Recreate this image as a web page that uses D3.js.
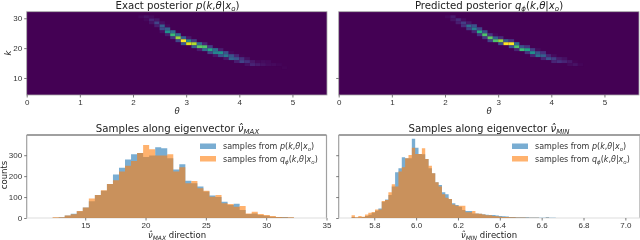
<!DOCTYPE html>
<html>
<head>
<meta charset="utf-8">
<script src="https://cdn.jsdelivr.net/npm/d3@7"></script>
<style>
html, body { margin: 0; padding: 0; background: #fff; }
svg { display: block; filter: blur(0.35px); font-family: "DejaVu Sans", sans-serif; }
.tick text { font-size: 8px; fill: #333; }
.title { font-size: 10.2px; fill: #222; text-anchor: middle; }
.axis-label { font-size: 8.5px; fill: #222; text-anchor: middle; }
.legend-text { font-size: 8px; fill: #333; }
.cells { filter: blur(0.5px); }
</style>
</head>
<body>
<div id="chart"></div>
<script>
// heatmap columns: theta left edge, lowest k row, cell values going up in k
var exactTheta = [2.1, 2.2, 2.3, 2.4, 2.5, 2.6, 2.7, 2.8, 2.9, 3.0, 3.1, 3.2, 3.3, 3.4, 3.5, 3.6, 3.7, 3.8, 3.9, 4.0, 4.1, 4.2, 4.3, 4.4, 4.5, 4.6, 4.7, 4.8];
var exactRow = [30, 29, 28, 27, 25, 24, 23, 22, 21, 21, 20, 19, 19, 18, 17, 17, 16, 16, 15, 15, 14, 14, 14, 14, 14, 14, 14, 13];
var exactVals = [
    [.02], [.02, .05], [.05, .1, .03], [.08, .2, .06], [.04, .22, .3, .04],
    [.08, .5, .3, .02], [.15, .68, .35], [.22, .85, .35], [.28, 1, .3], [.95, .45, .06],
    [.3, .88, .18], [.08, .75, .35], [.35, .72, .1], [.2, .6, .18], [.06, .45, .35],
    [.25, .5, .08], [.06, .4, .25], [.32, .25, .02], [.08, .26, .1], [.2, .14, .01],
    [.04, .14, .04], [.1, .06], [.07, .02], [.05, .03], [.03, .02], [.025], [.015], [.01]
];

var predTheta = [2.0, 2.1, 2.2, 2.3, 2.4, 2.5, 2.6, 2.7, 2.8, 2.9, 3.0, 3.1, 3.2, 3.3, 3.4, 3.5, 3.6, 3.7, 3.8, 3.9, 4.0, 4.1, 4.2, 4.3, 4.4, 4.5];
var predRow = [30, 29, 28, 27, 26, 25, 24, 23, 22, 22, 21, 21, 20, 19, 19, 18, 17, 17, 16, 16, 15, 15, 15, 14, 14, 14];
var predVals = [
    [.02], [.05, .07], [.08, .12], [.13, .18, .03], [.18, .35, .06],
    [.1, .42, .25], [.15, .62, .2], [.16, .72, .25], [.2, .75, .15], [.72, .3, .02],
    [.25, .85, .12], [1, .3], [.25, 1, .15], [.1, .72, .35], [.68, .25], [.15, .58, .15],
    [.1, .5, .18], [.36, .25, .03], [.1, .3, .14], [.25, .1], [.1, .18, .03],
    [.14, .07], [.1, .04], [.03, .06], [.05, .01], [.015]
];

// histogram of samples along the MAX eigenvector
var maxBinStart = 12.3;
var maxBinWidth = 0.5;
var maxBlue = [1, 3, 12, 20, 32, 50, 80, 110, 130, 162, 208, 240, 280, 305, 310, 292, 298, 338, 333, 285, 232, 257, 178, 166, 150, 126, 107, 100, 78, 62, 68, 38, 19, 22, 14, 11, 6, 5, 5, 2];
var maxOrange = [3, 3, 12, 18, 33, 50, 93, 110, 132, 162, 180, 222, 250, 272, 310, 349, 328, 298, 298, 305, 222, 242, 166, 177, 142, 130, 102, 110, 70, 67, 54, 57, 22, 30, 19, 14, 10, 5, 3, 3];

// histogram of samples along the MIN eigenvector
var minBinStart = 5.6915;
var minBinWidth = 0.016;
var minBlue = [5, 2, 4, 5, 10, 16, 25, 35, 45, 78, 88, 110, 150, 218, 238, 290, 285, 285, 378, 336, 306, 305, 282, 238, 214, 171, 158, 123, 113, 91, 70, 62, 54, 38, 33, 33, 22, 22, 20, 18, 15, 14, 14, 12, 10, 8, 7, 5, 5, 4, 4, 3, 3, 2, 2, 2, 1, 1, 3, 1, 1];
var minOrange = [13, 3, 10, 6, 17, 25, 29, 41, 41, 81, 86, 123, 161, 150, 222, 242, 285, 301, 336, 306, 306, 333, 282, 250, 214, 171, 150, 113, 97, 91, 65, 59, 59, 59, 27, 27, 33, 22, 20, 17, 13, 13, 10, 8, 6, 5, 5, 4, 3, 2, 2, 2, 1, 1, 1, 1, 0, 0, 1, 0, 0];

var thetaTicks = [0, 1, 2, 3, 4, 5];
var kTicks = [10, 20, 30];
var countTicks = [0, 100, 200, 300];
var maxTicks = [15, 20, 25, 30, 35];
var minTicks = [5.8, 6.0, 6.2, 6.4, 6.6, 6.8, 7.0];

var width = 640, height = 240;
var svg = d3.select("#chart").append("svg")
    .attr("width", width)
    .attr("height", height);

var blue = "#1f77b4", orange = "#ff7f0e";

var xTheta1 = d3.scaleLinear().domain([0, 5.65]).range([26.7, 327]);
var xTheta2 = d3.scaleLinear().domain([0, 5.65]).range([338.7, 639]);
var yK = d3.scaleLinear().domain([4.3, 32.2]).range([95, 11.7]);
var yCount = d3.scaleLinear().domain([0, 300]).range([218, 155.2]);
var xMax = d3.scaleLinear().domain([10.15, 35]).range([26.7, 326.5]);
var xMin = d3.scaleLinear().domain([5.63, 7.07]).range([338.7, 640]);

var color = d3.scaleSequential(d3.interpolateViridis).domain([0, 1]);

function drawHeatmap(x, thetas, rows, vals) {
    var g = svg.append("g");
    g.append("rect")
        .attr("x", x.range()[0])
        .attr("y", yK.range()[1])
        .attr("width", x.range()[1] - x.range()[0])
        .attr("height", yK.range()[0] - yK.range()[1])
        .attr("fill", color(0))
        .attr("stroke", "#aaa")
        .attr("stroke-width", 0.8);

    var cells = g.append("g").attr("class", "cells");
    thetas.forEach(function(t, i) {
        vals[i].forEach(function(v, j) {
            cells.append("rect")
                .attr("x", x(t))
                .attr("y", yK(rows[i] + j + 1))
                .attr("width", x(t + 0.1) - x(t))
                .attr("height", yK(rows[i] + j) - yK(rows[i] + j + 1))
                .attr("fill", color(v));
        });
    });
}

// one stepped outline per series so neighbouring bars leave no seams
function drawHist(x, start, binWidth, values, fill) {
    var area = d3.area()
        .curve(d3.curveStepAfter)
        .x(function(d, i) { return x(start + i * binWidth); })
        .y0(yCount(0))
        .y1(function(d) { return yCount(d); });

    svg.append("path")
        .datum(values.concat([0]))
        .attr("d", area)
        .attr("fill", fill)
        .attr("fill-opacity", 0.6);
}

function histFrame(x) {
    var l = x.range()[0], r = x.range()[1];
    var frame = svg.append("g").attr("stroke", "#a0a0a0").attr("fill", "none");
    frame.append("line").attr("x1", l).attr("x2", r).attr("y1", 135).attr("y2", 135).attr("stroke-width", 2);
    frame.append("line").attr("x1", l).attr("x2", l).attr("y1", 135).attr("y2", 218).attr("stroke-width", 1.2);
    frame.append("line").attr("x1", r).attr("x2", r).attr("y1", 135).attr("y2", 218).attr("stroke-width", 1.2);
    frame.append("line").attr("x1", l).attr("x2", r).attr("y1", 218).attr("y2", 218).attr("stroke", "#ddd").attr("stroke-width", 1);
}

function styleAxis(g) {
    g.select(".domain").remove();
    g.selectAll(".tick line").attr("stroke", "#444").attr("stroke-width", 0.7);
}

function bottomAxis(x, y, ticks, fmt) {
    svg.append("g")
        .attr("transform", "translate(0," + y + ")")
        .call(d3.axisBottom(x).tickValues(ticks).tickSize(2.5).tickPadding(2).tickFormat(fmt))
        .call(styleAxis);
}

function leftAxis(x0, scale, ticks, fmt) {
    svg.append("g")
        .attr("transform", "translate(" + x0 + ",0)")
        .call(d3.axisLeft(scale).tickValues(ticks).tickSize(2.5).tickPadding(2).tickFormat(fmt))
        .call(styleAxis);
}

// text with math parts: each part is [string, "i" for italic, "sub" for subscript]
function mathText(sel, parts, subSize) {
    parts.forEach(function(p, i) {
        var t = sel.append("tspan").text(p[0]);
        if (p[1] == "i" || p[1] == "sub") t.style("font-style", "italic");
        if (p[1] == "sub") {
            t.attr("dy", 2).style("font-size", subSize + "px");
        } else if (i > 0 && parts[i - 1][1] == "sub") {
            t.attr("dy", -2);
        }
    });
    return sel;
}

var exactParts = [["p", "i"], ["(", ""], ["k", "i"], [",", ""], ["θ", "i"], ["|", ""], ["x", "i"], ["o", "sub"], [")", ""]];
var predParts = [["q", "i"], ["ϕ", "sub"], ["(", ""], ["k", "i"], [",", ""], ["θ", "i"], ["|", ""], ["x", "i"], ["o", "sub"], [")", ""]];

function title(cx, y, parts) {
    var t = svg.append("text").attr("class", "title").attr("x", cx).attr("y", y);
    mathText(t, parts, 7);
}

function axisLabel(cx, y, parts) {
    var t = svg.append("text").attr("class", "axis-label").attr("x", cx).attr("y", y);
    mathText(t, parts, 6);
}

function legend(x0) {
    [[blue, exactParts, 143.5], [orange, predParts, 156]].forEach(function(row) {
        svg.append("rect")
            .attr("x", x0).attr("y", row[2])
            .attr("width", 16).attr("height", 5.5)
            .attr("fill", row[0]).attr("fill-opacity", 0.6);
        var t = svg.append("text").attr("class", "legend-text")
            .attr("x", x0 + 23).attr("y", row[2] + 5.5);
        mathText(t, [["samples from ", ""]].concat(row[1]), 5.5);
    });
}

// top row
drawHeatmap(xTheta1, exactTheta, exactRow, exactVals);
drawHeatmap(xTheta2, predTheta, predRow, predVals);
bottomAxis(xTheta1, 95, thetaTicks, d3.format("d"));
bottomAxis(xTheta2, 95, thetaTicks, d3.format("d"));
leftAxis(26.7, yK, kTicks, d3.format("d"));
leftAxis(338.7, yK, [10], function() { return ""; });

title(177.5, 9, [["Exact posterior ", ""]].concat(exactParts));
title(489, 9, [["Predicted posterior ", ""]].concat(predParts));
axisLabel(177, 113.5, [["θ", "i"]]);
axisLabel(489, 113.5, [["θ", "i"]]);
svg.append("text").attr("class", "axis-label")
    .attr("transform", "translate(11,53) rotate(-90)")
    .style("font-style", "italic")
    .text("k");

// bottom row
histFrame(xMax);
histFrame(xMin);
drawHist(xMax, maxBinStart, maxBinWidth, maxBlue, blue);
drawHist(xMax, maxBinStart, maxBinWidth, maxOrange, orange);
drawHist(xMin, minBinStart, minBinWidth, minBlue, blue);
drawHist(xMin, minBinStart, minBinWidth, minOrange, orange);
bottomAxis(xMax, 218, maxTicks, d3.format("d"));
bottomAxis(xMin, 218, minTicks, d3.format(".1f"));
leftAxis(26.7, yCount, countTicks, d3.format("d"));
leftAxis(338.7, yCount, countTicks, function() { return ""; });
legend(200);
legend(512);

title(177.5, 132, [["Samples along eigenvector ", ""], ["ν\u0302", "i"], ["MAX", "sub"]]);
title(489, 132, [["Samples along eigenvector ", ""], ["ν\u0302", "i"], ["MIN", "sub"]]);
axisLabel(177, 238, [["ν\u0302", "i"], ["MAX", "sub"], [" direction", ""]]);
axisLabel(489, 238, [["ν\u0302", "i"], ["MIN", "sub"], [" direction", ""]]);
svg.append("text").attr("class", "axis-label")
    .attr("transform", "translate(7,175) rotate(-90)")
    .text("counts");
</script>
</body>
</html>
